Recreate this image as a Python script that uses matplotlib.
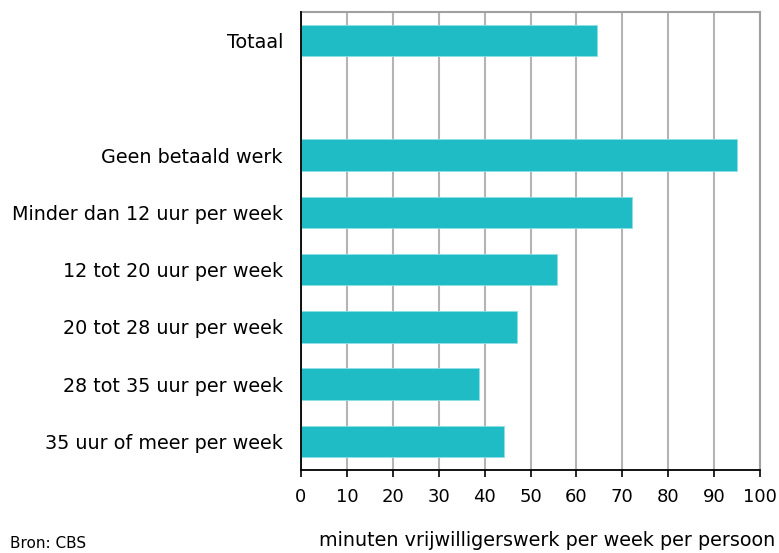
import matplotlib.pyplot as plt

labels = ["Totaal", "", "Geen betaald werk", "Minder dan 12 uur per week",
          "12 tot 20 uur per week", "20 tot 28 uur per week",
          "28 tot 35 uur per week", "35 uur of meer per week"]
values = [64.4, 0, 94.9, 72.2, 55.8, 47.0, 38.8, 44.3]
ticks = [0, 10, 20, 30, 40, 50, 60, 70, 80, 90, 100]

plt.rcParams['font.family'] = 'DejaVu Sans'

W, H = 779, 553
fig = plt.figure(figsize=(W / 100, H / 100), dpi=100)
ax = fig.add_axes([301 / W, 1 - 470 / H, 459 / W, 458 / H])

pos = list(range(len(labels)))
for p, v, l in zip(pos, values, labels):
    if l:
        ax.barh(p, v, height=0.55, color="#1fbcc6", edgecolor="#8fe0e6",
                linewidth=0.6, zorder=3)
ax.set_ylim(len(labels) - 0.5, -0.5)
ax.set_xlim(0, 100)
ax.set_xticks(ticks)
ax.set_xticklabels([str(t) for t in ticks], fontsize=13)
ax.set_yticks(pos)
ax.set_yticklabels(labels, fontsize=13.8)
ax.tick_params(axis="y", length=0, pad=13)
ax.tick_params(axis="x", length=5, width=1.2, color="black", pad=8)
ax.grid(axis="x", color="#b4b4b4", linewidth=1.5, zorder=0)
ax.set_axisbelow(True)
for s in ["top", "right"]:
    ax.spines[s].set_color("#a0a0a0")
    ax.spines[s].set_linewidth(1.5)
for s in ["left", "bottom"]:
    ax.spines[s].set_color("black")
    ax.spines[s].set_linewidth(1.3)
    ax.spines[s].set_zorder(5)

fig.text(775 / W, 1 - 540 / H, "minuten vrijwilligerswerk per week per persoon",
         ha="right", va="center", fontsize=13.8)
fig.text(10 / W, 2 / H, "Bron: CBS", ha="left", va="bottom", fontsize=11)

fig.savefig("out.png", dpi=100)
